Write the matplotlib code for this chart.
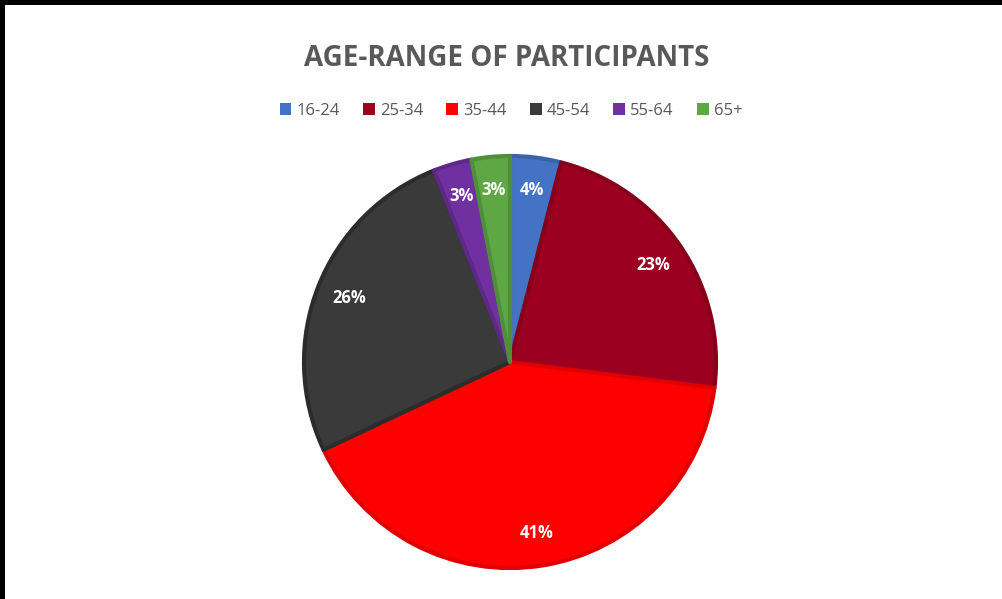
import matplotlib.pyplot as plt
from matplotlib.patches import Rectangle, Patch

# Datos
grupos = ["16-24", "25-34", "35-44", "45-54", "55-64", "65+"]
porcentajes = [4, 23, 41, 26, 3, 3]
colores = ["#4472C4", "#9C0020", "#FF0000", "#3A3A3A", "#7030A0", "#5FA645"]
bordes = ["#3A62A8", "#860019", "#E00000", "#2C2C2C", "#5E2888", "#4F8F39"]

plt.rcParams['font.family'] = ['Open Sans', 'DejaVu Sans']

fig = plt.figure(figsize=(10.03, 5.99), dpi=100)
fig.patch.set_facecolor('white')

# Marco negro (captura de pantalla)
fig.patches.append(Rectangle((0, 0), 5 / 1003, 1, transform=fig.transFigure,
                             facecolor='black', edgecolor='none', zorder=10))
fig.patches.append(Rectangle((0, 1 - 5 / 599), 1, 5 / 599, transform=fig.transFigure,
                             facecolor='black', edgecolor='none', zorder=10))

# Ejes del pastel
cx, cy, r = 510, 599 - 362, 206
lim = 1.03
half = r * lim
ax = fig.add_axes([(cx - half) / 1003, (cy - half) / 599, 2 * half / 1003, 2 * half / 599])

wedges, texts, autotexts = ax.pie(
    porcentajes, colors=colores, startangle=90, counterclock=False,
    autopct='%1.0f%%', pctdistance=0.84, radius=1,
    wedgeprops=dict(linewidth=3),
    textprops=dict(color='white', fontsize=12, fontweight='bold'))
for w, b in zip(wedges, bordes):
    w.set_edgecolor(b)
    w.set_joinstyle('round')
ax.set_xlim(-lim, lim)
ax.set_ylim(-lim, lim)
ax.set_aspect('equal')
ax.axis('off')

# Título
fig.text(507 / 1003, 1 - 58 / 599, "AGE-RANGE OF PARTICIPANTS", ha='center', va='center',
         fontsize=20, fontweight='bold', color='#595959')

# Leyenda
handles = [Patch(facecolor=c, edgecolor='none') for c in colores]
fig.legend(handles, grupos, loc='center', bbox_to_anchor=(511 / 1003, 1 - 111 / 599),
           ncol=6, frameon=False, fontsize=12, labelcolor='#595959',
           handlelength=0.7, handleheight=0.7, handletextpad=0.3, columnspacing=1.4)

fig.savefig('out.png', dpi=100, facecolor='white')
